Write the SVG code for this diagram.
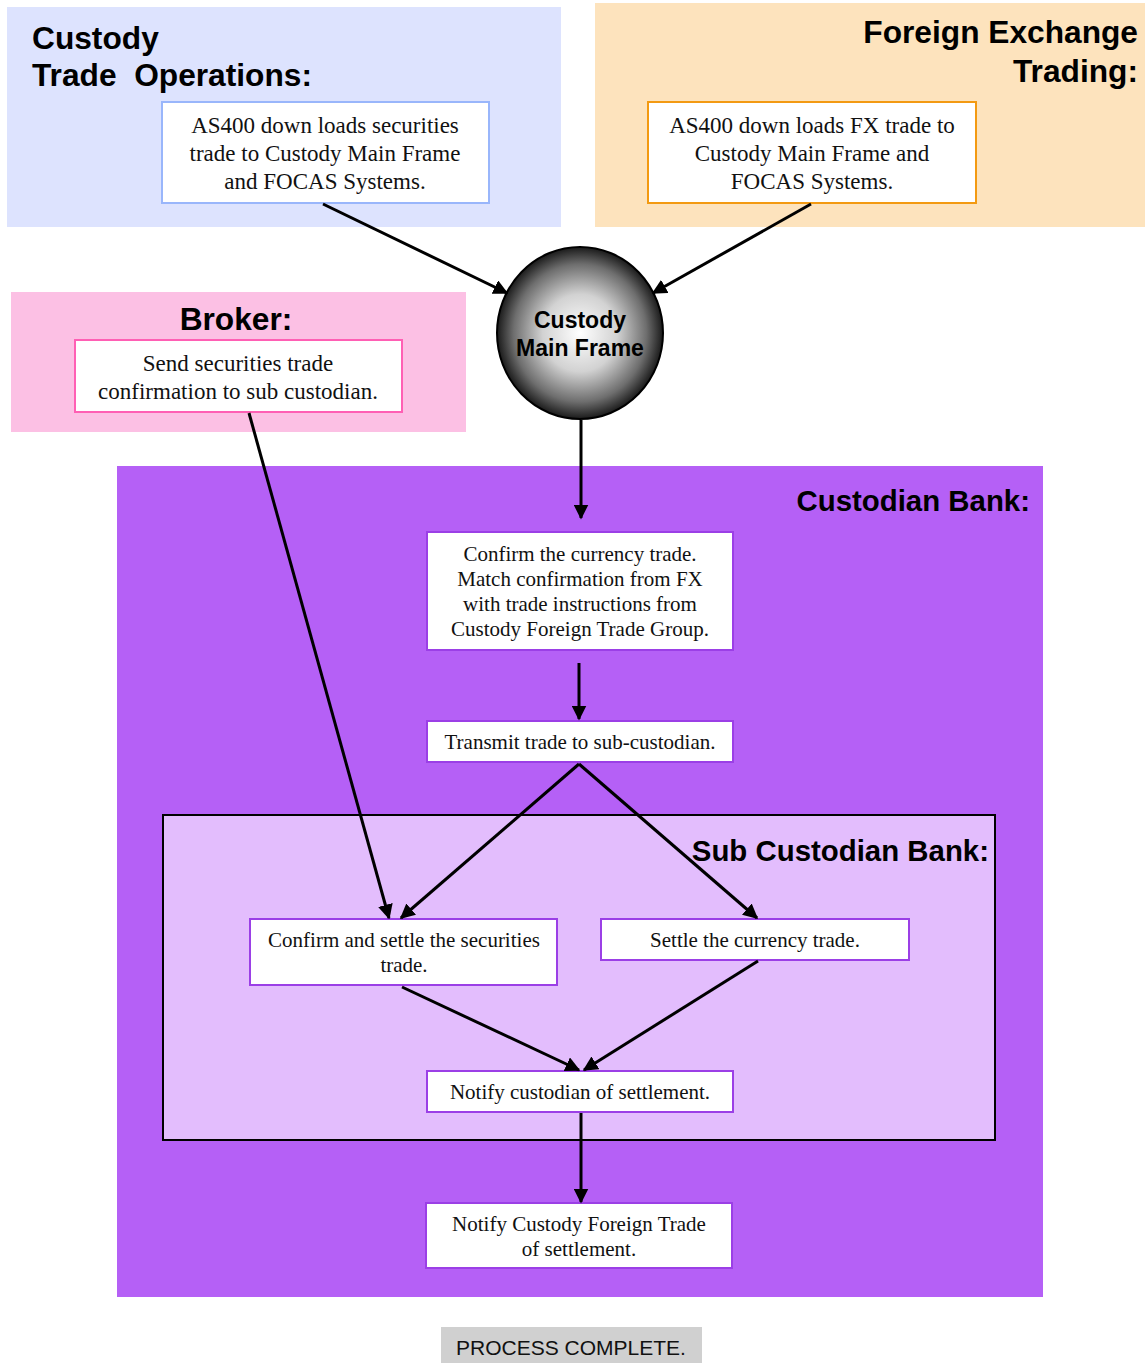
<svg xmlns="http://www.w3.org/2000/svg" width="1145" height="1363" viewBox="0 0 1145 1363">
  <style>
    .title { font-family: "Liberation Sans", Arial, sans-serif; font-weight: bold; font-size: 31.7px; fill: #000; }
    .title-sm { font-family: "Liberation Sans", Arial, sans-serif; font-weight: bold; font-size: 29.4px; fill: #000; text-anchor: end; }
    .body { font-family: "Liberation Serif", "Times New Roman", serif; font-size: 23px; fill: #111; text-anchor: middle; }
    .body-sm { font-family: "Liberation Serif", "Times New Roman", serif; font-size: 21px; fill: #111; text-anchor: middle; }
    .box { fill: #fff; stroke-width: 2; }
    .purple { stroke: #9b3fe6; }
    .edge { stroke: #000; stroke-width: 3; fill: none; marker-end: url(#arrow); }
  </style>
  <defs>
    <marker id="arrow" viewBox="0 0 10 10" refX="9" refY="5" markerWidth="5" markerHeight="5" orient="auto" markerUnits="strokeWidth">
      <path d="M0,0 L10,5 L0,10 z" fill="#000"/>
    </marker>
    <radialGradient id="sphere" cx="50%" cy="50%" r="50%">
      <stop offset="0" stop-color="#ffffff"/>
      <stop offset="0.45" stop-color="#d2d2d2"/>
      <stop offset="0.8" stop-color="#6e6e6e"/>
      <stop offset="1" stop-color="#1a1a1a"/>
    </radialGradient>
  </defs>

  <rect width="1145" height="1363" fill="#fff"/>

  <!-- Swimlane panels -->
  <g id="lane-custody-ops">
    <rect x="7" y="7" width="554" height="220" fill="#dde3fe"/>
    <text class="title" x="32" y="49">Custody</text>
    <text class="title" x="32" y="86" xml:space="preserve">Trade  Operations:</text>
  </g>
  <g id="lane-fx">
    <rect x="595" y="3" width="550" height="224" fill="#fde3bd"/>
    <text class="title" x="1138" y="43" text-anchor="end">Foreign Exchange</text>
    <text class="title" x="1138" y="82" text-anchor="end">Trading:</text>
  </g>
  <g id="lane-broker">
    <rect x="11" y="292" width="455" height="140" fill="#fcc0e4"/>
    <text class="title" x="236" y="330" text-anchor="middle">Broker:</text>
  </g>
  <g id="lane-custodian">
    <rect x="117" y="466" width="926" height="831" fill="#b560f6"/>
    <text class="title-sm" x="1030" y="511">Custodian Bank:</text>
  </g>
  <g id="lane-sub-custodian">
    <rect x="163" y="815" width="832" height="325" fill="#e3bdfd" stroke="#000" stroke-width="2"/>
    <text class="title-sm" x="989" y="861">Sub Custodian Bank:</text>
  </g>

  <!-- Nodes -->
  <g id="node-as400-securities">
    <rect class="box" x="162" y="102" width="327" height="101" stroke="#99b6fb"/>
    <text class="body" x="325" y="133">AS400 down loads securities</text>
    <text class="body" x="325" y="161">trade to Custody Main Frame</text>
    <text class="body" x="325" y="189">and FOCAS Systems.</text>
  </g>
  <g id="node-as400-fx">
    <rect class="box" x="648" y="102" width="328" height="101" stroke="#f39a12"/>
    <text class="body" x="812" y="133">AS400 down loads FX trade to</text>
    <text class="body" x="812" y="161">Custody Main Frame and</text>
    <text class="body" x="812" y="189">FOCAS Systems.</text>
  </g>
  <g id="node-broker-confirm">
    <rect class="box" x="75" y="340" width="327" height="72" stroke="#ff5fb4"/>
    <text class="body" x="238" y="371">Send securities trade</text>
    <text class="body" x="238" y="399">confirmation to sub custodian.</text>
  </g>
  <g id="node-main-frame">
    <ellipse cx="580" cy="333" rx="83" ry="86" fill="url(#sphere)" stroke="#000" stroke-width="2"/>
    <text x="580" y="328" text-anchor="middle" font-family="Liberation Sans, Arial, sans-serif" font-weight="bold" font-size="23">Custody</text>
    <text x="580" y="356" text-anchor="middle" font-family="Liberation Sans, Arial, sans-serif" font-weight="bold" font-size="23">Main Frame</text>
  </g>
  <g id="node-confirm-currency">
    <rect class="box purple" x="427" y="532" width="306" height="118"/>
    <text class="body-sm" x="580" y="561">Confirm the currency trade.</text>
    <text class="body-sm" x="580" y="586">Match confirmation from FX</text>
    <text class="body-sm" x="580" y="611">with trade instructions from</text>
    <text class="body-sm" x="580" y="636">Custody Foreign Trade Group.</text>
  </g>
  <g id="node-transmit">
    <rect class="box purple" x="427" y="721" width="306" height="41"/>
    <text class="body-sm" x="580" y="749">Transmit trade to sub-custodian.</text>
  </g>
  <g id="node-settle-securities">
    <rect class="box purple" x="250" y="919" width="307" height="66"/>
    <text class="body-sm" x="404" y="947">Confirm and settle the securities</text>
    <text class="body-sm" x="404" y="972">trade.</text>
  </g>
  <g id="node-settle-currency">
    <rect class="box purple" x="601" y="919" width="308" height="41"/>
    <text class="body-sm" x="755" y="947">Settle the currency trade.</text>
  </g>
  <g id="node-notify-custodian">
    <rect class="box purple" x="427" y="1071" width="306" height="41"/>
    <text class="body-sm" x="580" y="1099">Notify custodian of settlement.</text>
  </g>
  <g id="node-notify-foreign-trade">
    <rect class="box purple" x="426" y="1203" width="306" height="65"/>
    <text class="body-sm" x="579" y="1231">Notify Custody Foreign Trade</text>
    <text class="body-sm" x="579" y="1256">of settlement.</text>
  </g>
  <g id="node-process-complete">
    <rect x="441" y="1327" width="261" height="36" fill="#d0d0d0"/>
    <text x="571" y="1355" text-anchor="middle" font-family="Liberation Sans, Arial, sans-serif" font-size="21" fill="#111">PROCESS COMPLETE.</text>
  </g>

  <!-- Connectors -->
  <g id="connectors">
    <line class="edge" x1="323" y1="204" x2="507" y2="293"/>
    <line class="edge" x1="811" y1="204" x2="653" y2="293"/>
    <line class="edge" x1="581" y1="420" x2="581" y2="518"/>
    <line class="edge" x1="579" y1="663" x2="579" y2="719"/>
    <line class="edge" x1="249" y1="413" x2="389" y2="918"/>
    <line class="edge" x1="579" y1="764" x2="401" y2="918"/>
    <line class="edge" x1="579" y1="764" x2="757" y2="918"/>
    <line class="edge" x1="402" y1="987" x2="579" y2="1070"/>
    <line class="edge" x1="758" y1="961" x2="584" y2="1070"/>
    <line class="edge" x1="581" y1="1113" x2="581" y2="1202"/>
  </g>
</svg>
